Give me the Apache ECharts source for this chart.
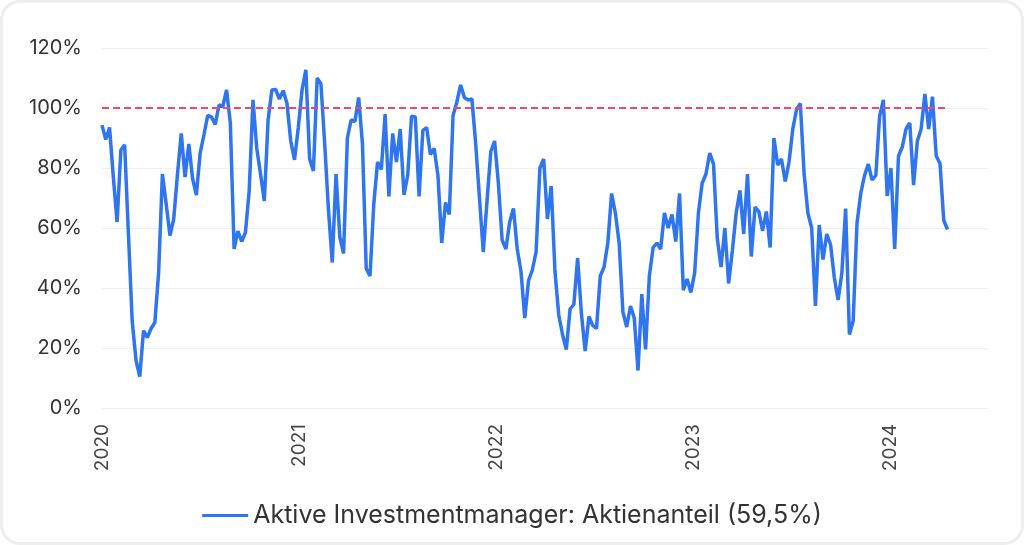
<!DOCTYPE html>
<html>
<head>
<meta charset="utf-8">
<script src="https://cdn.jsdelivr.net/npm/echarts@6/dist/echarts.min.js"></script>
<style>
html,body{margin:0;padding:0;width:1024px;height:545px;background:#ffffff;overflow:hidden;}
#card{position:absolute;left:0;top:0;width:1024px;height:545px;box-sizing:border-box;border:3px solid #eeeeee;border-radius:20px;}
#chart{position:absolute;left:0;top:0;width:1024px;height:545px;}
</style>
</head>
<body>
<div id="card"></div>
<div id="chart"></div>
<script>
// Weekly readings (Wednesdays), starting 2020-01-01
const startDate = [2020, 0, 1];
const v2020 = [94.3, 89.5, 93.5, 77, 62, 86, 87.7, 58, 29, 16,
  10.5, 25.8, 23.5, 26.5, 28.5, 45, 78, 68, 57.5, 63,
  78, 91.5, 77, 88, 76.5, 71, 85, 91, 97.5, 97,
  94.5, 101, 100.5, 106, 95, 53, 59, 55.5, 58.5, 72.5,
  102.7, 86.5, 78, 69, 96, 106, 106.2, 103, 105.8, 101.5,
  89, 82.7, 93.5];
const v2021 = [106, 112.7, 83, 79, 110, 108, 88, 66, 48.5, 78,
  57, 51.5, 90, 96, 95.5, 103.5, 88, 46.5, 44, 68,
  82, 79.5, 98, 70.5, 91.5, 82, 93, 71, 77.7, 97.3,
  97, 70.5, 92.5, 93.5, 84.5, 86.5, 77.5, 55, 68.5, 64.5,
  97.5, 102, 107.7, 103.5, 102.7, 103, 88, 70, 52, 69,
  85.5, 89];
const v2022 = [75, 56, 53, 62, 66.5, 53, 45.5, 30, 42.5, 46,
  52, 80, 83, 63, 74, 45.5, 31, 24.5, 19.5, 33,
  34.5, 50, 31.5, 19, 30.5, 27.5, 26.5, 44, 47, 55,
  71.5, 65, 55, 32, 27, 34, 30, 12.5, 38, 19.5,
  44, 53.5, 55, 53, 65, 60, 64.5, 55.5, 71.5, 39.3,
  43, 38.5];
const v2023 = [45, 65, 75, 78, 85, 81.3, 56.5, 47, 60, 41.5,
  52.5, 65, 72.5, 58, 78, 50.5, 67, 65.5, 59, 65.5,
  53.5, 90, 81, 83, 75.5, 82, 93, 99.5, 101.5, 78,
  65, 60, 34, 61, 49.5, 58, 54.5, 43.5, 36, 45,
  66.5, 24.5, 29, 61.5, 71.5, 77.5, 81.3, 76, 77.5, 97.3,
  102.7, 70.7];
const v2024 = [80, 53, 84, 87, 93, 95, 74.3, 89, 93, 104.7,
  93, 103.8, 84, 81.5, 62.5, 59.5];
const yTicks = [0, 20, 40, 60, 80, 100, 120];
const referenceLevel = 100;
const seriesName = 'Aktive Investmentmanager: Aktienanteil (59,5%)';
const axisMin = '2020-01-01';
const axisMax = '2024-07-01';

const values = [].concat(v2020, v2021, v2022, v2023, v2024);
const data = values.map(function (v, i) {
  const d = new Date(startDate[0], startDate[1], startDate[2] + 7 * i);
  return [d.getTime(), v];
});
const firstT = data[0][0];
const lastT = data[data.length - 1][0];

const chart = echarts.init(document.getElementById('chart'), null, {renderer: 'canvas'});
chart.setOption({
  backgroundColor: 'transparent',
  animation: false,
  textStyle: {fontFamily: 'Inter'},
  grid: {left: 102, right: 36, top: 48, bottom: 137, containLabel: false},
  legend: {
    top: 498,
    left: 'center',
    icon: 'rect',
    itemWidth: 46,
    itemHeight: 3,
    itemGap: 10,
    textStyle: {fontSize: 25, color: '#333333', fontFamily: 'Inter'},
    data: [seriesName]
  },
  xAxis: {
    type: 'time',
    min: axisMin,
    max: axisMax,
    minInterval: 365 * 24 * 3600 * 1000,
    axisLine: {show: false},
    axisTick: {show: false},
    splitLine: {show: false},
    axisLabel: {
      rotate: 90,
      margin: 16,
      fontSize: 19,
      color: '#444444',
      fontFamily: 'Inter',
      hideOverlap: false,
      formatter: function (val) {
        const d = new Date(val);
        return (d.getMonth() === 0 && d.getDate() === 1) ? String(d.getFullYear()) : '';
      }
    }
  },
  yAxis: {
    type: 'value',
    min: yTicks[0],
    max: yTicks[yTicks.length - 1],
    interval: yTicks[1] - yTicks[0],
    axisLine: {show: false},
    axisTick: {show: false},
    splitLine: {lineStyle: {color: '#f0f0f0', width: 1}},
    axisLabel: {
      margin: 20,
      fontSize: 20,
      color: '#333333',
      fontFamily: 'Inter',
      formatter: '{value}%'
    }
  },
  series: [{
    name: seriesName,
    type: 'line',
    data: data,
    symbol: 'none',
    showSymbol: false,
    smooth: false,
    lineStyle: {color: '#2E75EE', width: 3.5},
    itemStyle: {color: '#2E75EE'},
    markLine: {
      silent: true,
      symbol: ['none', 'none'],
      label: {show: false},
      lineStyle: {color: '#EF4770', width: 2, type: [7, 4]},
      data: [[{coord: [firstT, referenceLevel]}, {coord: [lastT, referenceLevel]}]]
    }
  }]
});
</script>
</body>
</html>
